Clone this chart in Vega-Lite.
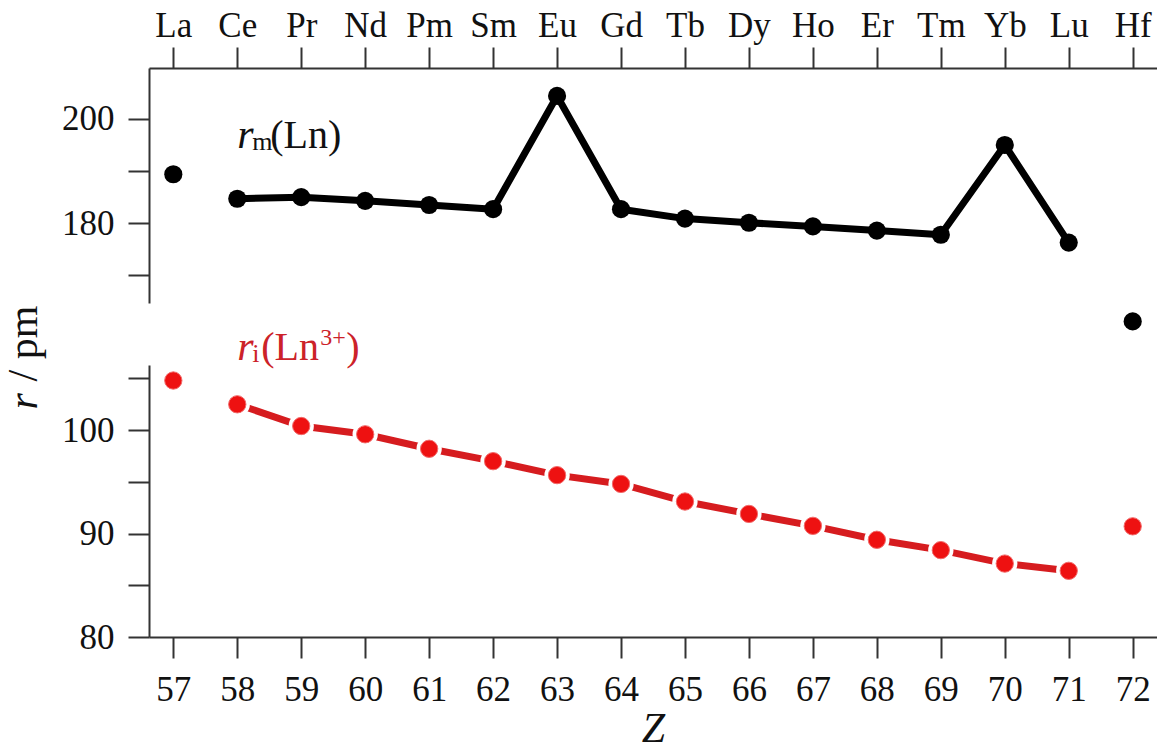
{
  "$schema": "https://vega.github.io/schema/vega-lite/v6.json",
  "width": 1008,
  "height": 569,
  "autosize": {"type": "none"},
  "padding": {"left": 149, "top": 68, "right": 0, "bottom": 112},
  "background": "white",
  "config": {
    "view": {"stroke": null},
    "font": "Liberation Serif",
    "axis": {
      "labelFont": "Liberation Serif",
      "titleFont": "Liberation Serif",
      "labelFontSize": 35,
      "labelColor": "#111111",
      "domainColor": "#333333",
      "tickColor": "#333333",
      "domainWidth": 2,
      "tickWidth": 2,
      "tickSize": 21,
      "grid": false,
      "labelFlush": false,
      "labelOverlap": false
    }
  },
  "datasets": {
    "metal": [
      {"Z": 57, "r": 189.4},
      {"Z": 58, "r": 184.7},
      {"Z": 59, "r": 185.0},
      {"Z": 60, "r": 184.3},
      {"Z": 61, "r": 183.5},
      {"Z": 62, "r": 182.7},
      {"Z": 63, "r": 204.4},
      {"Z": 64, "r": 182.7},
      {"Z": 65, "r": 180.9},
      {"Z": 66, "r": 180.1},
      {"Z": 67, "r": 179.4},
      {"Z": 68, "r": 178.6},
      {"Z": 69, "r": 177.8},
      {"Z": 70, "r": 195.0},
      {"Z": 71, "r": 176.3},
      {"Z": 72, "r": 161.2}
    ],
    "ion": [
      {"Z": 57, "r": 104.8},
      {"Z": 58, "r": 102.5},
      {"Z": 59, "r": 100.4},
      {"Z": 60, "r": 99.6},
      {"Z": 61, "r": 98.2},
      {"Z": 62, "r": 97.0},
      {"Z": 63, "r": 95.65},
      {"Z": 64, "r": 94.8},
      {"Z": 65, "r": 93.1},
      {"Z": 66, "r": 91.9},
      {"Z": 67, "r": 90.75},
      {"Z": 68, "r": 89.4},
      {"Z": 69, "r": 88.4},
      {"Z": 70, "r": 87.1},
      {"Z": 71, "r": 86.4},
      {"Z": 72, "r": 90.7}
    ],
    "labelTop": [{"Z": 58.0, "r": 194.4}],
    "labelBottom": [{"Z": 58.0, "r": 106.8}],
    "yTitle": [{"Z": 54.87, "r": 102.0}]
  },
  "layer": [
    {
      "encoding": {
        "x": {
          "field": "Z", "type": "quantitative",
          "scale": {"domain": [56.62, 72.38], "nice": false, "zero": false},
          "axis": {
            "orient": "top",
            "title": null,
            "values": [57,58,59,60,61,62,63,64,65,66,67,68,69,70,71,72],
            "labelExpr": "['La','Ce','Pr','Nd','Pm','Sm','Eu','Gd','Tb','Dy','Ho','Er','Tm','Yb','Lu','Hf'][datum.value - 57]",
            "labelPadding": 4
          }
        },
        "y": {
          "field": "r", "type": "quantitative",
          "scale": {"domain": [164.73, 209.75], "range": [235, 0], "nice": false, "zero": false},
          "axis": {
            "orient": "left",
            "title": null,
            "values": [170, 180, 190, 200],
            "labelExpr": "datum.value % 20 == 0 ? datum.label : ''",
            "labelPadding": 14
          }
        }
      },
      "layer": [
        {
          "data": {"name": "metal"},
          "transform": [{"filter": "datum.Z >= 58 && datum.Z <= 71"}],
          "mark": {"type": "line", "color": "#000000", "strokeWidth": 7, "strokeJoin": "round"}
        },
        {
          "data": {"name": "metal"},
          "mark": {"type": "point", "shape": "circle", "filled": true, "color": "#000000", "size": 330, "opacity": 1}
        },
        {
          "data": {"name": "labelTop"},
          "mark": {"type": "text", "text": "r", "fontSize": 42, "fontStyle": "italic", "align": "left", "baseline": "alphabetic", "color": "#111111"}
        },
        {
          "data": {"name": "labelTop"},
          "mark": {"type": "text", "text": "m", "fontSize": 26, "align": "left", "baseline": "alphabetic", "dx": 15, "dy": 2, "color": "#111111"}
        },
        {
          "data": {"name": "labelTop"},
          "mark": {"type": "text", "text": "(Ln)", "fontSize": 40, "align": "left", "baseline": "alphabetic", "dx": 33, "color": "#111111"}
        }
      ]
    },
    {
      "encoding": {
        "x": {
          "field": "Z", "type": "quantitative",
          "scale": {"domain": [56.62, 72.38], "nice": false, "zero": false},
          "axis": {
            "orient": "bottom",
            "title": "Z",
            "titleFontStyle": "italic",
            "titleFontWeight": "normal",
            "titleFontSize": 42,
            "titleColor": "#111111",
            "titlePadding": 1,
            "values": [57,58,59,60,61,62,63,64,65,66,67,68,69,70,71,72],
            "format": "d",
            "labelPadding": 14
          }
        },
        "y": {
          "field": "r", "type": "quantitative",
          "scale": {"domain": [80, 106.3], "range": [569, 297], "nice": false, "zero": false},
          "axis": {
            "orient": "left",
            "title": null,
            "values": [80, 85, 90, 95, 100, 105],
            "labelExpr": "datum.value % 10 == 0 ? datum.label : ''",
            "labelPadding": 14
          }
        }
      },
      "layer": [
        {
          "data": {"name": "ion"},
          "transform": [{"filter": "datum.Z >= 58 && datum.Z <= 71"}],
          "mark": {"type": "line", "color": "#d61c1f", "strokeWidth": 7}
        },
        {
          "data": {"name": "ion"},
          "mark": {"type": "point", "shape": "circle", "filled": true, "color": "#ffffff", "size": 640, "opacity": 1}
        },
        {
          "data": {"name": "ion"},
          "mark": {"type": "point", "shape": "circle", "filled": true, "fill": "#ee1111", "stroke": "#f26a6a", "strokeWidth": 1, "size": 300, "opacity": 1}
        },
        {
          "data": {"name": "labelBottom"},
          "mark": {"type": "text", "text": "r", "fontSize": 42, "fontStyle": "italic", "align": "left", "baseline": "alphabetic", "color": "#cc2229"}
        },
        {
          "data": {"name": "labelBottom"},
          "mark": {"type": "text", "text": "i", "fontSize": 26, "align": "left", "baseline": "alphabetic", "dx": 15, "dy": 2, "color": "#cc2229"}
        },
        {
          "data": {"name": "labelBottom"},
          "mark": {"type": "text", "text": "(Ln", "fontSize": 40, "align": "left", "baseline": "alphabetic", "dx": 24, "color": "#cc2229"}
        },
        {
          "data": {"name": "labelBottom"},
          "mark": {"type": "text", "text": "3+", "fontSize": 24, "align": "left", "baseline": "alphabetic", "dx": 83, "dy": -15, "color": "#cc2229"}
        },
        {
          "data": {"name": "labelBottom"},
          "mark": {"type": "text", "text": ")", "fontSize": 40, "align": "left", "baseline": "alphabetic", "dx": 109, "color": "#cc2229"}
        },
        {
          "data": {"name": "yTitle"},
          "mark": {"type": "text", "text": "r", "fontSize": 42, "fontStyle": "italic", "angle": 270, "align": "left", "baseline": "alphabetic", "color": "#111111"}
        },
        {
          "data": {"name": "yTitle"},
          "mark": {"type": "text", "text": "/ pm", "fontSize": 42, "angle": 270, "align": "left", "baseline": "alphabetic", "dx": 28, "color": "#111111"}
        }
      ]
    }
  ],
  "resolve": {
    "scale": {"y": "independent"},
    "axis": {"x": "independent", "y": "independent"}
  }
}
